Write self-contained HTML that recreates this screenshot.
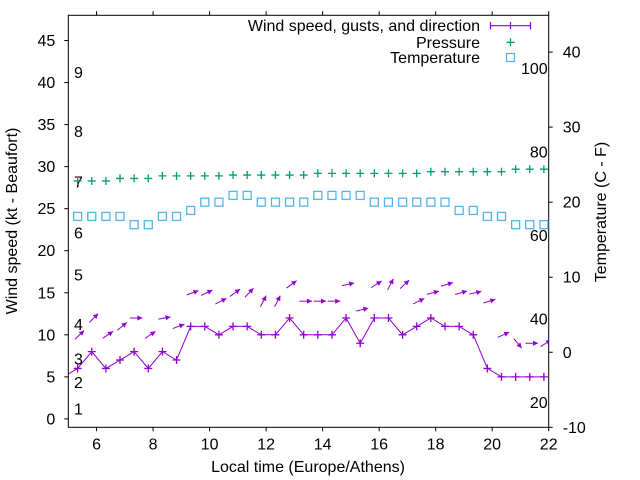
<!DOCTYPE html>
<html><head><meta charset="utf-8"><style>
html,body{margin:0;padding:0;background:#fff;}
svg{display:block;font-family:"Liberation Sans",Arial,sans-serif;}
</style></head><body>
<svg id="chart" width="640" height="480" viewBox="0 0 640 480" xmlns="http://www.w3.org/2000/svg">
<defs><clipPath id="plotclip"><rect x="68.3" y="15.3" width="480.4" height="412"/></clipPath></defs>
<rect x="0" y="0" width="640" height="480" fill="#fff"/>
<g id="axes"></g>
<g id="series" clip-path="url(#plotclip)"></g>
<g id="legend"></g>
</svg>
<script>
const times = [5.33,5.83,6.33,6.83,7.33,7.83,8.33,8.83,9.33,9.83,10.33,10.83,11.33,11.83,12.33,12.83,13.33,13.83,14.33,14.83,15.33,15.83,16.33,16.83,17.33,17.83,18.33,18.83,19.33,19.83,20.33,20.83,21.33,21.83];
const windSpeed = [6,8,6,7,8,6,8,7,11,11,10,11,11,10,10,12,10,10,10,12,9,12,12,10,11,12,11,11,10,6,5,5,5,5];
const gustSpeed = [10,12,10,11,12,10,12,11,15,15,14,15,15,14,14,16,14,14,14,16,13,16,16,16,14,15,16,15,15,14,10,9,9,9];
const windDirFrom = [226,225,236,230,270,236,260,250,250,245,243,234,224,207,207,234,270,270,270,258,257,237,207,227,244,255,254,254,258,253,246,320,270,238];
const pressure = [1013.3,1013.3,1013.3,1013.6,1013.6,1013.6,1013.9,1013.9,1013.9,1013.9,1013.9,1014.0,1014.0,1014.0,1014.0,1014.0,1014.0,1014.2,1014.2,1014.2,1014.2,1014.2,1014.2,1014.2,1014.2,1014.4,1014.4,1014.4,1014.4,1014.4,1014.4,1014.7,1014.7,1014.7];
const temperature = [18.1,18.1,18.1,18.1,17.0,17.0,18.1,18.1,18.9,20.0,20.0,20.9,20.9,20.0,20.0,20.0,20.0,20.9,20.9,20.9,20.9,20.0,20.0,20.0,20.0,20.0,20.0,18.9,18.9,18.1,18.1,17.0,17.0,17.0];
const prevTime = [4.83];
const prevWind = [5];
const xTicks = [6,8,10,12,14,16,18,20,22];
const yTicks = [0,5,10,15,20,25,30,35,40,45];
const y2Ticks = [-10,0,10,20,30,40];
const beaufortLabels = ["1","2","3","4","5","6","7","8","9"];
const beaufortKt = [1.2,4.3,7.1,11.2,17.1,22.1,28.2,34.2,41.2];
const fahrenheitLabels = [20,40,60,80,100];

const NS="http://www.w3.org/2000/svg";
const FS='16';
const L=68.3,R=548.7,T=15.3,B=427.3;
function xS(t){return L+(t-5)*(R-L)/17;}
function yS(v){return B-(v+1)*(B-T)/49;}
function y2S(c){return B-(c+10)*(B-T)/54.9;}
function yP(p){return yS(p-985);}
function mk(tag,attrs,parent){const e=document.createElementNS(NS,tag);for(const k in attrs)e.setAttribute(k,attrs[k]);parent.appendChild(e);return e;}
const axes=document.getElementById('axes'),ser=document.getElementById('series'),leg=document.getElementById('legend');
const purple="#9400d3",green="#009e73",blue="#56b4e9";

const fr=mk('rect',{x:L,y:T,width:R-L,height:B-T,fill:'none',stroke:'#000','stroke-width':1},axes);


xTicks.forEach(t=>{const x=xS(t);
 const tk=mk('path',{d:`M${x},${B}v4M${x},${T}v-4`,stroke:'#000'},axes);
 
 
 const tx=mk('text',{x:x,y:B+22,'text-anchor':'middle','font-size':FS},axes);tx.textContent=t;
 
 });
yTicks.forEach(v=>{const y=yS(v);
 const tk=mk('path',{d:`M${L},${y}h-4`,stroke:'#000'},axes);
 
 
 const tx=mk('text',{x:L-13,y:y+5.5,'text-anchor':'end','font-size':FS},axes);tx.textContent=v;
 
 });
y2Ticks.forEach(v=>{const y=y2S(v);
 const tk=mk('path',{d:`M${R},${y}h4`,stroke:'#000'},axes);
 
 
 const tx=mk('text',{x:R+14,y:y+5.5,'text-anchor':'start','font-size':FS},axes);tx.textContent=v;
 
 });
beaufortLabels.forEach((s,i)=>{const tx=mk('text',{x:74,y:yS(beaufortKt[i])+5.5,'font-size':FS},axes);tx.textContent=s;
 
 });
fahrenheitLabels.forEach(f=>{const c=(f-32)*5/9;const tx=mk('text',{x:R-1,y:y2S(c)+5.5,'text-anchor':'end','font-size':FS},axes);tx.textContent=f;
 
 });
let t1=mk('text',{x:308,y:472,'text-anchor':'middle','font-size':FS},axes);t1.textContent='Local time (Europe/Athens)';


let t2=mk('text',{x:0,y:0,'text-anchor':'middle','font-size':FS,transform:'translate(17,221) rotate(-90)'},axes);t2.textContent='Wind speed (kt - Beaufort)';


let t3=mk('text',{x:0,y:0,'text-anchor':'middle','font-size':FS,transform:'translate(606,212) rotate(-90)'},axes);t3.textContent='Temperature (C - F)';



function plus(x,y,c,parent,name){const p=mk('path',{d:`M${x-4},${y}h8M${x},${y-4}v8`,stroke:c,'stroke-width':1.3},parent);
 
 }
function square(x,y,parent){const r=mk('rect',{x:x-4,y:y-4,width:8,height:8,fill:'none',stroke:blue,'stroke-width':1.3},parent);
 
 }

times.forEach((t,i)=>plus(xS(t),yP(pressure[i]),green,ser,'pressure-point'));
times.forEach((t,i)=>square(xS(t),y2S(temperature[i]),ser));
const lineT=prevTime.concat(times), lineW=prevWind.concat(windSpeed);
const wl=mk('polyline',{points:lineT.map((t,i)=>xS(t)+','+yS(lineW[i])).join(' '),fill:'none',stroke:purple,'stroke-width':1},ser);


times.forEach((t,i)=>plus(xS(t),yS(windSpeed[i]),purple,ser,'wind-speed-point'));
times.forEach((t,i)=>{
 const a=(270-windDirFrom[i])*Math.PI/180, len=12.5;
 const cx=xS(t)+2, cy=yS(gustSpeed[i]);
 const dx=Math.cos(a), dy=-Math.sin(a);
 const x0=cx-dx*len/2,y0=cy-dy*len/2,x1=cx+dx*len/2,y1=cy+dy*len/2;
 const g=mk('g',{},ser);
 
 
 mk('line',{x1:x0,y1:y0,x2:x1,y2:y1,stroke:purple,'stroke-width':1},g);
 const hl=5,hw=2.6,bx=x1-dx*hl,by=y1-dy*hl,px=-dy,py=dx;
 mk('path',{d:`M${x1},${y1}L${bx+px*hw},${by+py*hw}L${bx-px*hw},${by-py*hw}Z`,fill:purple},g);
});

const lrow=[{t:'Wind speed, gusts, and direction',y:25.7},{t:'Pressure',y:42.3},{t:'Temperature',y:57.5}];
lrow.forEach((r,i)=>{const tx=mk('text',{x:480,y:r.y+5.5,'text-anchor':'end','font-size':FS},leg);tx.textContent=r.t;
 
 });
const ls=mk('path',{d:'M490.5,25.7H530.5M490.5,22v7.4M510.5,22v7.4M530.5,22v7.4',stroke:purple,'stroke-width':1.2},leg);


plus(510.5,42.3,green,leg,'legend-pressure-sample');
const lsq=mk('rect',{x:506.5,y:53.5,width:8,height:8,fill:'none',stroke:blue,'stroke-width':1.3},leg);


</script>
</body></html>
